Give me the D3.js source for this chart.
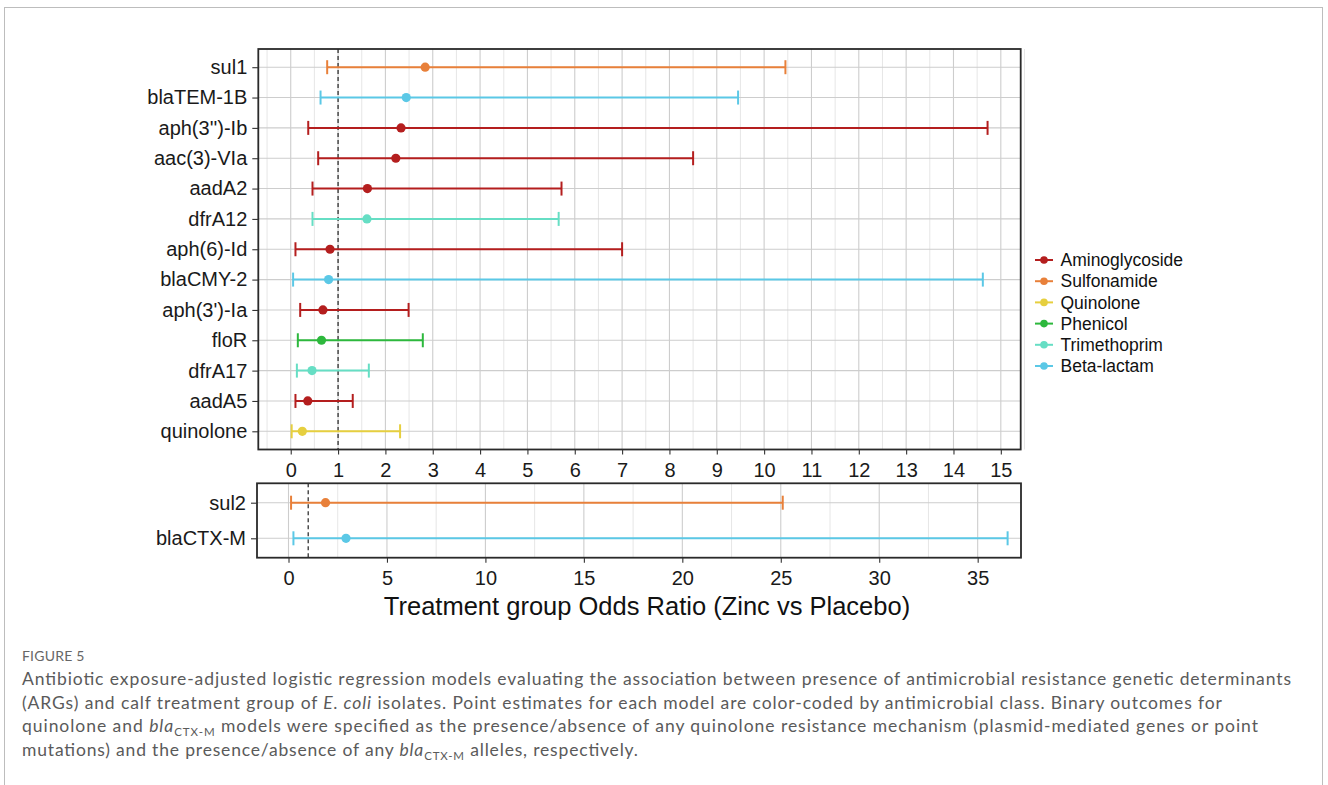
<!DOCTYPE html>
<html>
<head>
<meta charset="utf-8">
<script src="https://cdn.jsdelivr.net/npm/d3@7"></script>
<style>
  html, body { margin: 0; padding: 0; background: #ffffff; }
  svg { display: block; }
</style>
</head>
<body>
<svg id="chart" width="1328" height="785"></svg>
<script>
// ---------- data ----------
const genesTop = ["sul1","blaTEM-1B","aph(3'')-Ib","aac(3)-VIa","aadA2","dfrA12","aph(6)-Id","blaCMY-2","aph(3')-Ia","floR","dfrA17","aadA5","quinolone"];
const classTop = ["Sulfonamide","Beta-lactam","Aminoglycoside","Aminoglycoside","Aminoglycoside","Trimethoprim","Aminoglycoside","Beta-lactam","Aminoglycoside","Phenicol","Trimethoprim","Aminoglycoside","Quinolone"];
const orTop    = [2.84, 2.44, 2.33, 2.22, 1.62, 1.61, 0.83, 0.80, 0.68, 0.65, 0.45, 0.36, 0.245];
const lowerTop = [0.77, 0.63, 0.37, 0.58, 0.46, 0.46, 0.10, 0.05, 0.20, 0.15, 0.13, 0.10, 0.02];
const upperTop = [10.45, 9.45, 14.72, 8.50, 5.72, 5.66, 7.00, 14.62, 2.49, 2.79, 1.65, 1.31, 2.31];

const genesBottom = ["sul2","blaCTX-M"];
const classBottom = ["Sulfonamide","Beta-lactam"];
const orBottom    = [1.88, 2.92];
const lowerBottom = [0.13, 0.25];
const upperBottom = [25.1, 36.52];

const classes = ["Aminoglycoside","Sulfonamide","Quinolone","Phenicol","Trimethoprim","Beta-lactam"];
const classColors = ["#B41E1E","#E8803A","#E6CF3F","#2DB83D","#66DEC4","#5BC8E6"];

const ticksTop = d3.range(0, 16, 1);
const ticksBottom = [0, 5, 10, 15, 20, 25, 30, 35];
const xTitle = "Treatment group Odds Ratio (Zinc vs Placebo)";

// ---------- setup ----------
const svg = d3.select("#chart");
const color = d3.scaleOrdinal().domain(classes).range(classColors);
const FONT = "Liberation Sans, Arial, Helvetica, sans-serif";

// outer frame
svg.append("rect").attr("x", 4.5).attr("y", 7.5).attr("width", 1318).attr("height", 800)
  .attr("fill", "none").attr("stroke", "#bdbdbd").attr("stroke-width", 1);

function panel(opts) {
  const {genes, cls, or, lo, hi, x0, x1, y0, y1, domain, majors, minors, pad} = opts;
  const x = d3.scaleLinear().domain(domain).range([x0, x1]);
  const y = d3.scalePoint().domain(genes).range([y0, y1]).padding(pad);
  const g = svg.append("g");

  g.selectAll(".minor").data(minors).join("line")
    .attr("x1", d => x(d)).attr("x2", d => x(d)).attr("y1", y0).attr("y2", y1)
    .attr("stroke", "#e3e3e3").attr("stroke-width", 0.9);
  g.selectAll(".major").data(majors).join("line")
    .attr("x1", d => x(d)).attr("x2", d => x(d)).attr("y1", y0).attr("y2", y1)
    .attr("stroke", "#cdcdcd").attr("stroke-width", 1.1);
  g.selectAll(".hgrid").data(genes).join("line")
    .attr("x1", x0).attr("x2", x1).attr("y1", d => y(d)).attr("y2", d => y(d))
    .attr("stroke", "#cdcdcd").attr("stroke-width", 1.1);

  g.append("line").attr("x1", x(1)).attr("x2", x(1)).attr("y1", y0).attr("y2", y1)
    .attr("stroke", "#222").attr("stroke-width", 1.2).attr("stroke-dasharray", "4,3");

  const rows = genes.map((gname, i) => ({g: gname, c: cls[i], or: or[i], lo: lo[i], hi: hi[i]}));
  g.selectAll(".bar").data(rows).join("line")
    .attr("x1", d => x(d.lo)).attr("x2", d => x(d.hi))
    .attr("y1", d => y(d.g)).attr("y2", d => y(d.g))
    .attr("stroke", d => color(d.c)).attr("stroke-width", 2);
  g.selectAll(".capL").data(rows).join("line")
    .attr("x1", d => x(d.lo)).attr("x2", d => x(d.lo))
    .attr("y1", d => y(d.g) - 7).attr("y2", d => y(d.g) + 7)
    .attr("stroke", d => color(d.c)).attr("stroke-width", 2);
  g.selectAll(".capR").data(rows).join("line")
    .attr("x1", d => x(d.hi)).attr("x2", d => x(d.hi))
    .attr("y1", d => y(d.g) - 7).attr("y2", d => y(d.g) + 7)
    .attr("stroke", d => color(d.c)).attr("stroke-width", 2);
  g.selectAll(".pt").data(rows).join("circle")
    .attr("cx", d => x(d.or)).attr("cy", d => y(d.g)).attr("r", 4.6)
    .attr("fill", d => color(d.c));

  g.append("rect").attr("x", x0).attr("y", y0).attr("width", x1 - x0).attr("height", y1 - y0)
    .attr("fill", "none").attr("stroke", "#2a2a2a").attr("stroke-width", 1.8);

  const ya = g.append("g").attr("transform", `translate(${x0},0)`)
    .call(d3.axisLeft(y).tickSize(6).tickPadding(5));
  ya.select(".domain").remove();
  ya.selectAll(".tick line").attr("stroke", "#333").attr("stroke-width", 1.1);
  ya.selectAll(".tick text").attr("font-family", FONT).attr("font-size", 20).attr("fill", "#1a1a1a");

  const xa = g.append("g").attr("transform", `translate(0,${y1})`)
    .call(d3.axisBottom(x).tickValues(majors).tickSize(5).tickPadding(8).tickFormat(d3.format("d")));
  xa.select(".domain").remove();
  xa.selectAll(".tick line").attr("stroke", "#333").attr("stroke-width", 1.1);
  xa.selectAll(".tick text").attr("font-family", FONT).attr("font-size", 20).attr("fill", "#1a1a1a");
  return {x, y};
}

panel({
  genes: genesTop, cls: classTop, or: orTop, lo: lowerTop, hi: upperTop,
  x0: 258.3, x1: 1020.7, y0: 49, y1: 449.5,
  domain: [-0.685, 15.42], majors: ticksTop, minors: d3.range(-0.5, 15.6, 1), pad: 0.6
});

panel({
  genes: genesBottom, cls: classBottom, or: orBottom, lo: lowerBottom, hi: upperBottom,
  x0: 257, x1: 1021, y0: 483.3, y1: 557.7,
  domain: [-1.6, 37.2], majors: ticksBottom, minors: d3.range(2.5, 37, 5), pad: 0.545
});

svg.append("text").attr("x", 647).attr("y", 615).attr("text-anchor", "middle")
  .attr("font-family", FONT).attr("font-size", 25.5).attr("fill", "#111").text(xTitle);

// legend
const lg = svg.append("g");
classes.forEach((c, i) => {
  const yy = 260 + i * 21.2;
  lg.append("line").attr("x1", 1035).attr("x2", 1053).attr("y1", yy).attr("y2", yy)
    .attr("stroke", color(c)).attr("stroke-width", 2);
  lg.append("circle").attr("cx", 1044).attr("cy", yy).attr("r", 3.8).attr("fill", color(c));
  lg.append("text").attr("x", 1060.5).attr("y", yy).attr("dy", "0.35em")
    .attr("font-family", FONT).attr("font-size", 17.5).attr("fill", "#111").text(c);
});

// caption
const CAP = "Lato, Open Sans, sans-serif";
svg.append("text").attr("x", 22).attr("y", 661).attr("font-family", CAP).attr("font-size", 14)
  .attr("fill", "#666").attr("letter-spacing", 0.2).text("FIGURE 5");

const capLines = [
  {y: 685, w: 1269, parts: [["Antibiotic exposure-adjusted logistic regression models evaluating the association between presence of antimicrobial resistance genetic determinants", ""]]},
  {y: 708.5, w: 1200, parts: [["(ARGs) and calf treatment group of ", ""], ["E. coli", "i"], [" isolates. Point estimates for each model are color-coded by antimicrobial class. Binary outcomes for", ""]]},
  {y: 732, w: 1236, parts: [["quinolone and ", ""], ["bla", "i"], ["CTX-M", "sub"], [" models were specified as the presence/absence of any quinolone resistance mechanism (plasmid-mediated genes or point", ""]]},
  {y: 755.5, w: 616, parts: [["mutations) and the presence/absence of any ", ""], ["bla", "i"], ["CTX-M", "sub"], [" alleles, respectively.", ""]]}
];
capLines.forEach(l => {
  const t = svg.append("text").attr("x", 22).attr("y", l.y).attr("font-family", CAP)
    .attr("font-size", 17.5).attr("fill", "#5a5a5a")
    .attr("textLength", l.w).attr("lengthAdjust", "spacing");
  let prevSub = false;
  l.parts.forEach(([s, st]) => {
    const ts = t.append("tspan").text(s);
    if (st === "i") ts.attr("font-style", "italic");
    if (st === "sub") ts.attr("font-size", 11.5).attr("dy", 4);
    else if (prevSub) ts.attr("dy", -4);
    prevSub = st === "sub";
  });
});
</script>
</body>
</html>
